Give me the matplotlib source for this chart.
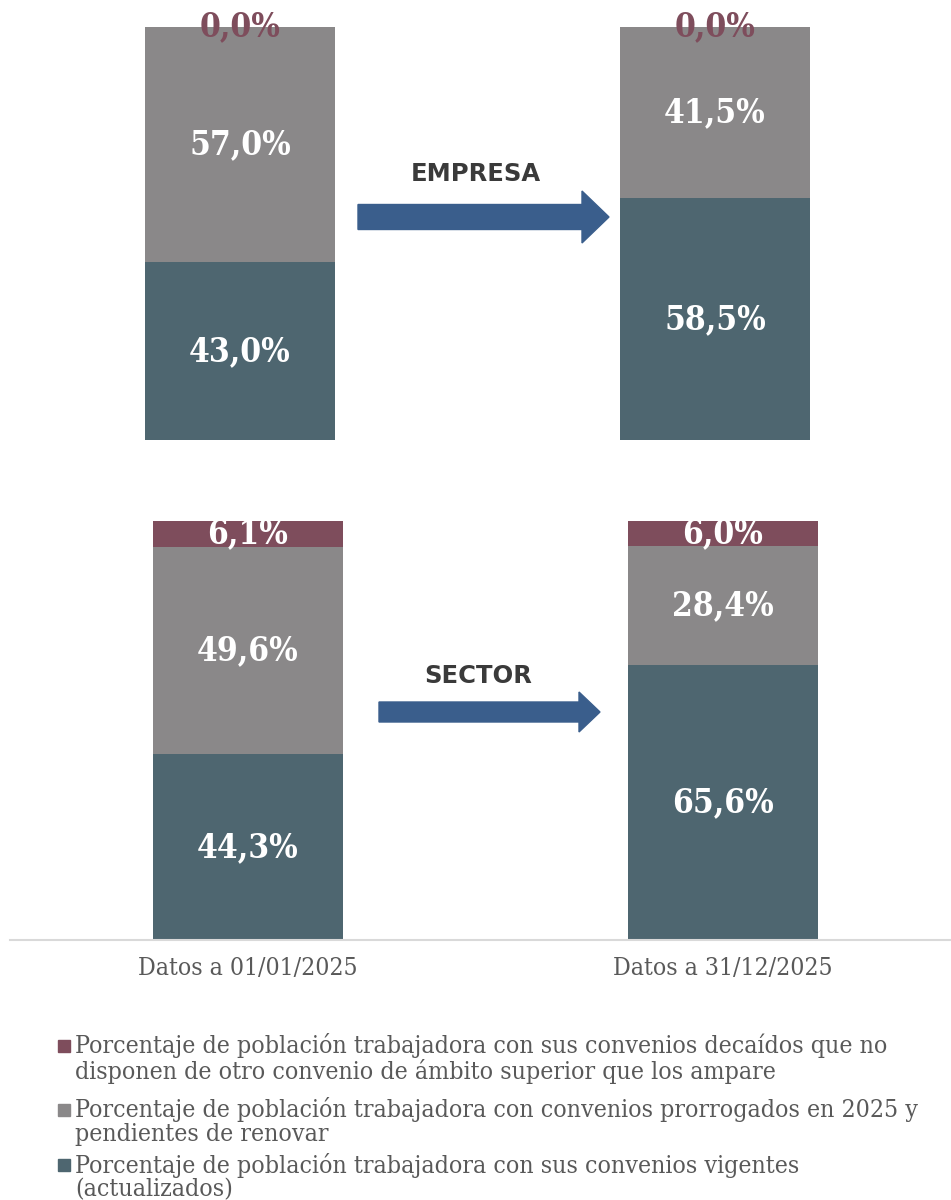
import matplotlib
matplotlib.use("Agg")
import matplotlib.pyplot as plt
from matplotlib.patches import FancyArrow, Rectangle

# data
categories = ["Datos a 01/01/2025", "Datos a 31/12/2025"]
empresa_vigentes = [43.0, 58.5]
empresa_prorrogados = [57.0, 41.5]
empresa_decaidos = [0.0, 0.0]
sector_vigentes = [44.3, 65.6]
sector_prorrogados = [49.6, 28.4]
sector_decaidos = [6.1, 6.0]
panel_titles = ["EMPRESA", "SECTOR"]
legend_labels = [
    "Porcentaje de población trabajadora con sus convenios decaídos que no\ndisponen de otro convenio de ámbito superior que los ampare",
    "Porcentaje de población trabajadora con convenios prorrogados en 2025 y\npendientes de renovar",
    "Porcentaje de población trabajadora con sus convenios vigentes\n(actualizados)",
]

c_vig = "#4e6670"
c_pro = "#8a8889"
c_dec = "#7e4d5c"
c_arrow = "#3a5e8c"
c_text = "#595959"

W, H = 951, 1200
fig = plt.figure(figsize=(W / 100, H / 100), dpi=100)

def fx(px):
    return px / W

def fy(py):
    return 1 - py / H

label_font = dict(family="DejaVu Serif", fontstretch="condensed", fontweight="bold", fontsize=24)

def stacked(ax, vig, pro, dec, dec_color):
    x = range(len(vig))
    ax.bar(x, vig, width=0.4, color=c_vig)
    ax.bar(x, pro, width=0.4, bottom=vig, color=c_pro)
    base = [a + b for a, b in zip(vig, pro)]
    ax.bar(x, dec, width=0.4, bottom=base, color=c_dec)
    for i in x:
        ax.text(i, vig[i] / 2, f"{vig[i]:.1f}%".replace(".", ","), ha="center", va="center",
                color="white", **label_font)
        ax.text(i, vig[i] + pro[i] / 2, f"{pro[i]:.1f}%".replace(".", ","), ha="center", va="center",
                color="white", **label_font)
        ax.text(i, base[i] + dec[i] / 2, f"{dec[i]:.1f}%".replace(".", ","), ha="center", va="center",
                color=dec_color, clip_on=False, **label_font)
    ax.set_ylim(0, 100)
    ax.set_xlim(-0.501, 1.48)
    ax.set_yticks([])
    for s in ["top", "right", "left"]:
        ax.spines[s].set_visible(False)

# top panel (empresa)
ax1 = fig.add_axes([fx(2), fy(440), fx(941), 413 / H])
stacked(ax1, empresa_vigentes, empresa_prorrogados, empresa_decaidos, c_dec)
ax1.spines["bottom"].set_visible(False)
ax1.set_xticks([])

# bottom panel (sector)
ax2 = fig.add_axes([fx(10), fy(940), fx(941), 419 / H])
stacked(ax2, sector_vigentes, sector_prorrogados, sector_decaidos, "white")
ax2.spines["bottom"].set_color("#d9d9d9")
ax2.spines["bottom"].set_linewidth(1.5)
ax2.set_xticks(range(len(categories)))
ax2.set_xticklabels(categories, family="DejaVu Serif", fontstretch="condensed",
                    fontsize=17.7, color=c_text)
ax2.tick_params(axis="x", length=0, pad=12)

# arrows and panel titles
arrows = [(358, 609, 217, 25, 52, 27), (379, 600, 712, 20, 40, 21)]
title_pos = [(476, 174), (478, 676)]
for (x0, x1, yc, sw, hw, hl), (tx, ty), title in zip(arrows, title_pos, panel_titles):
    fig.patches.append(FancyArrow(fx(x0), fy(yc), fx(x1 - x0), 0, width=sw / H,
                                  head_width=hw / H, head_length=fx(hl),
                                  length_includes_head=True, color=c_arrow,
                                  transform=fig.transFigure))
    fig.text(fx(tx), fy(ty), title, ha="center", va="center", fontsize=17.5,
             fontweight="heavy", color="#3a3a3a", family="DejaVu Sans")

# legend, drawn by hand so the wrapped lines sit tight
colors = [c_dec, c_pro, c_vig]
item_top = [1046, 1110, 1165]
for label, col, y0 in zip(legend_labels, colors, item_top):
    fig.patches.append(Rectangle((fx(58), fy(y0 + 6)), fx(12), 12 / H, color=col,
                                 transform=fig.transFigure))
    for k, line in enumerate(label.split("\n")):
        fig.text(fx(75), fy(y0 + k * 25), line, ha="left", va="center", fontsize=17.8,
                 family="DejaVu Serif", fontstretch="condensed", color=c_text)

fig.savefig("out.png", dpi=100)
